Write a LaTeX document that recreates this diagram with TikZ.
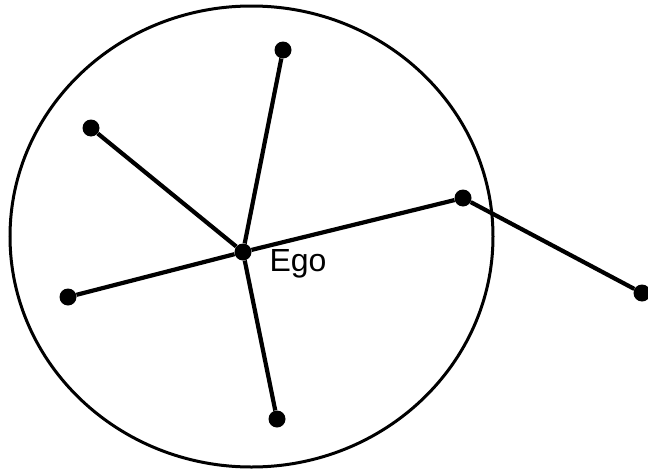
\documentclass[tikz,border=0pt]{standalone}
\usepackage{fontspec}
\setmainfont{Liberation Sans}
\usepackage{tikz}

\begin{document}
\begin{tikzpicture}[x=1pt, y=-1pt,
  actor/.style={circle, fill=black, inner sep=0pt, minimum size=17pt},
  tie/.style={line width=4.2pt}]
  \useasboundingbox (0,0) rectangle (648,471);

  % Boundary of the ego network
  \draw[line width=3pt] (251.5,236.5) ellipse [x radius=241.5, y radius=230.5];

  % Actors
  \node[actor] (ego) at (243,252) {};
  \foreach \nm/\px/\py in {
    top/283/50, upleft/91/128, left/68/297,
    right/463/198, bottom/277/419, outer/642/293
  }{
    \node[actor] (\nm) at (\px,\py) {};
  }
  \node[anchor=base west, font=\fontsize{32}{36}\selectfont] (egolbl) at (266,271) {Ego};

  % Ties
  \foreach \nm in {top, upleft, left, right, bottom}{
    \draw[tie] (ego) -- (\nm);
  }
  \draw[tie] (right) -- (outer);
\end{tikzpicture}
\end{document}
